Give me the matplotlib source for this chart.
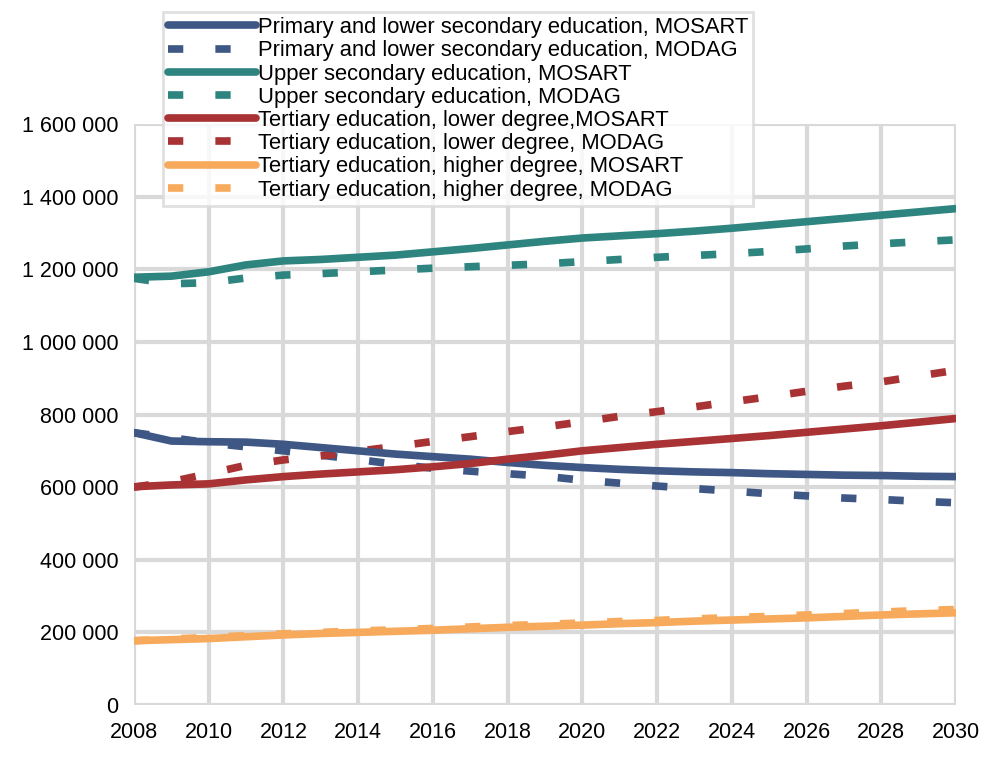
import numpy as np
import matplotlib.pyplot as plt
from matplotlib.ticker import FuncFormatter

plt.rcParams["font.family"] = ["Liberation Sans", "DejaVu Sans"]

years = list(range(2008, 2031))

# thousands of persons
primary_mosart = [750, 727, 725, 724, 718, 709, 700, 691, 684, 677, 668, 660,
                  654, 649, 645, 642, 640, 637, 635, 633, 632, 630, 629]
primary_modag = [750, 736, 722, 711, 700, 688, 676, 663, 652, 644, 637, 630,
                 619, 611, 603, 596, 589, 582, 576, 570, 566, 561, 557]
upper_mosart = [1178, 1181, 1193, 1212, 1223, 1227, 1233, 1239, 1248, 1257, 1267, 1277,
                1286, 1292, 1298, 1305, 1313, 1322, 1331, 1340, 1349, 1358, 1367]
upper_modag = [1175, 1160, 1163, 1176, 1184, 1188, 1193, 1198, 1203, 1207, 1211, 1215,
               1221, 1227, 1233, 1238, 1243, 1249, 1256, 1264, 1270, 1276, 1281]
tert_low_mosart = [601, 606, 609, 620, 629, 636, 642, 648, 656, 665, 677, 688,
                   700, 709, 718, 726, 734, 742, 751, 760, 769, 779, 789]
tert_low_modag = [600, 615, 637, 660, 675, 686, 699, 712, 726, 739, 753, 766,
                  780, 795, 808, 821, 835, 849, 864, 878, 890, 906, 922]
tert_high_mosart = [177, 180, 183, 188, 193, 197, 200, 203, 206, 210, 214, 217,
                    220, 224, 227, 231, 234, 237, 240, 244, 248, 251, 254]
tert_high_modag = [177, 182, 186, 191, 196, 200, 204, 207, 211, 215, 219, 222,
                   226, 230, 233, 237, 241, 244, 248, 252, 256, 260, 263]

series = [
    ("Primary and lower secondary education, MOSART", primary_mosart, "#3E5785", "-"),
    ("Primary and lower secondary education, MODAG", primary_modag, "#3E5785", "--"),
    ("Upper secondary education, MOSART", upper_mosart, "#2E8580", "-"),
    ("Upper secondary education, MODAG", upper_modag, "#2E8580", "--"),
    ("Tertiary education, lower degree,MOSART", tert_low_mosart, "#A83234", "-"),
    ("Tertiary education, lower degree, MODAG", tert_low_modag, "#A83234", "--"),
    ("Tertiary education, higher degree, MOSART", tert_high_mosart, "#F7AA5C", "-"),
    ("Tertiary education, higher degree, MODAG", tert_high_modag, "#F7AA5C", "--"),
]

fig = plt.figure(figsize=(9.96, 7.58), dpi=100)
ax = fig.add_axes([0.1345, 0.0699, 0.8253, 0.7665])

handles = {}
# dashed lines first so the solid ones sit on top
for dashed in (True, False):
    for label, vals, color, style in series:
        if (style == "--") != dashed:
            continue
        y = np.array(vals) * 1000
        if dashed:
            line, = ax.plot(years, y, color=color, lw=5.5, dashes=(2.0, 4.2),
                            dash_capstyle="butt", label=label)
        else:
            line, = ax.plot(years, y, color=color, lw=5.5, solid_capstyle="round",
                            label=label)
        handles[label] = line

ax.set_xlim(2008, 2030)
ax.set_ylim(0, 1600000)
ax.set_xticks(range(2008, 2031, 2))
ax.set_yticks(range(0, 1600001, 200000))
ax.yaxis.set_major_formatter(FuncFormatter(lambda v, p: f"{int(v):,}".replace(",", " ")))
ax.grid(True, color="#d9d9d9", lw=3)
ax.set_axisbelow(True)
for s in ax.spines.values():
    s.set_visible(False)
ax.tick_params(length=0, labelsize=15.5)
ax.tick_params(axis="y", pad=11)
ax.tick_params(axis="x", pad=12)

leg = ax.legend([handles[s[0]] for s in series], [s[0] for s in series],
                loc="upper left", bbox_to_anchor=(0.1637, 0.984),
                bbox_transform=fig.transFigure, fontsize=15.8, frameon=True,
                fancybox=False, handlelength=4.0, handletextpad=0.1,
                labelspacing=0.1, borderpad=0.23, borderaxespad=0)
leg.get_frame().set_edgecolor("#d9d9d9")
leg.get_frame().set_linewidth(2)

fig.savefig("out.png", dpi=100)
